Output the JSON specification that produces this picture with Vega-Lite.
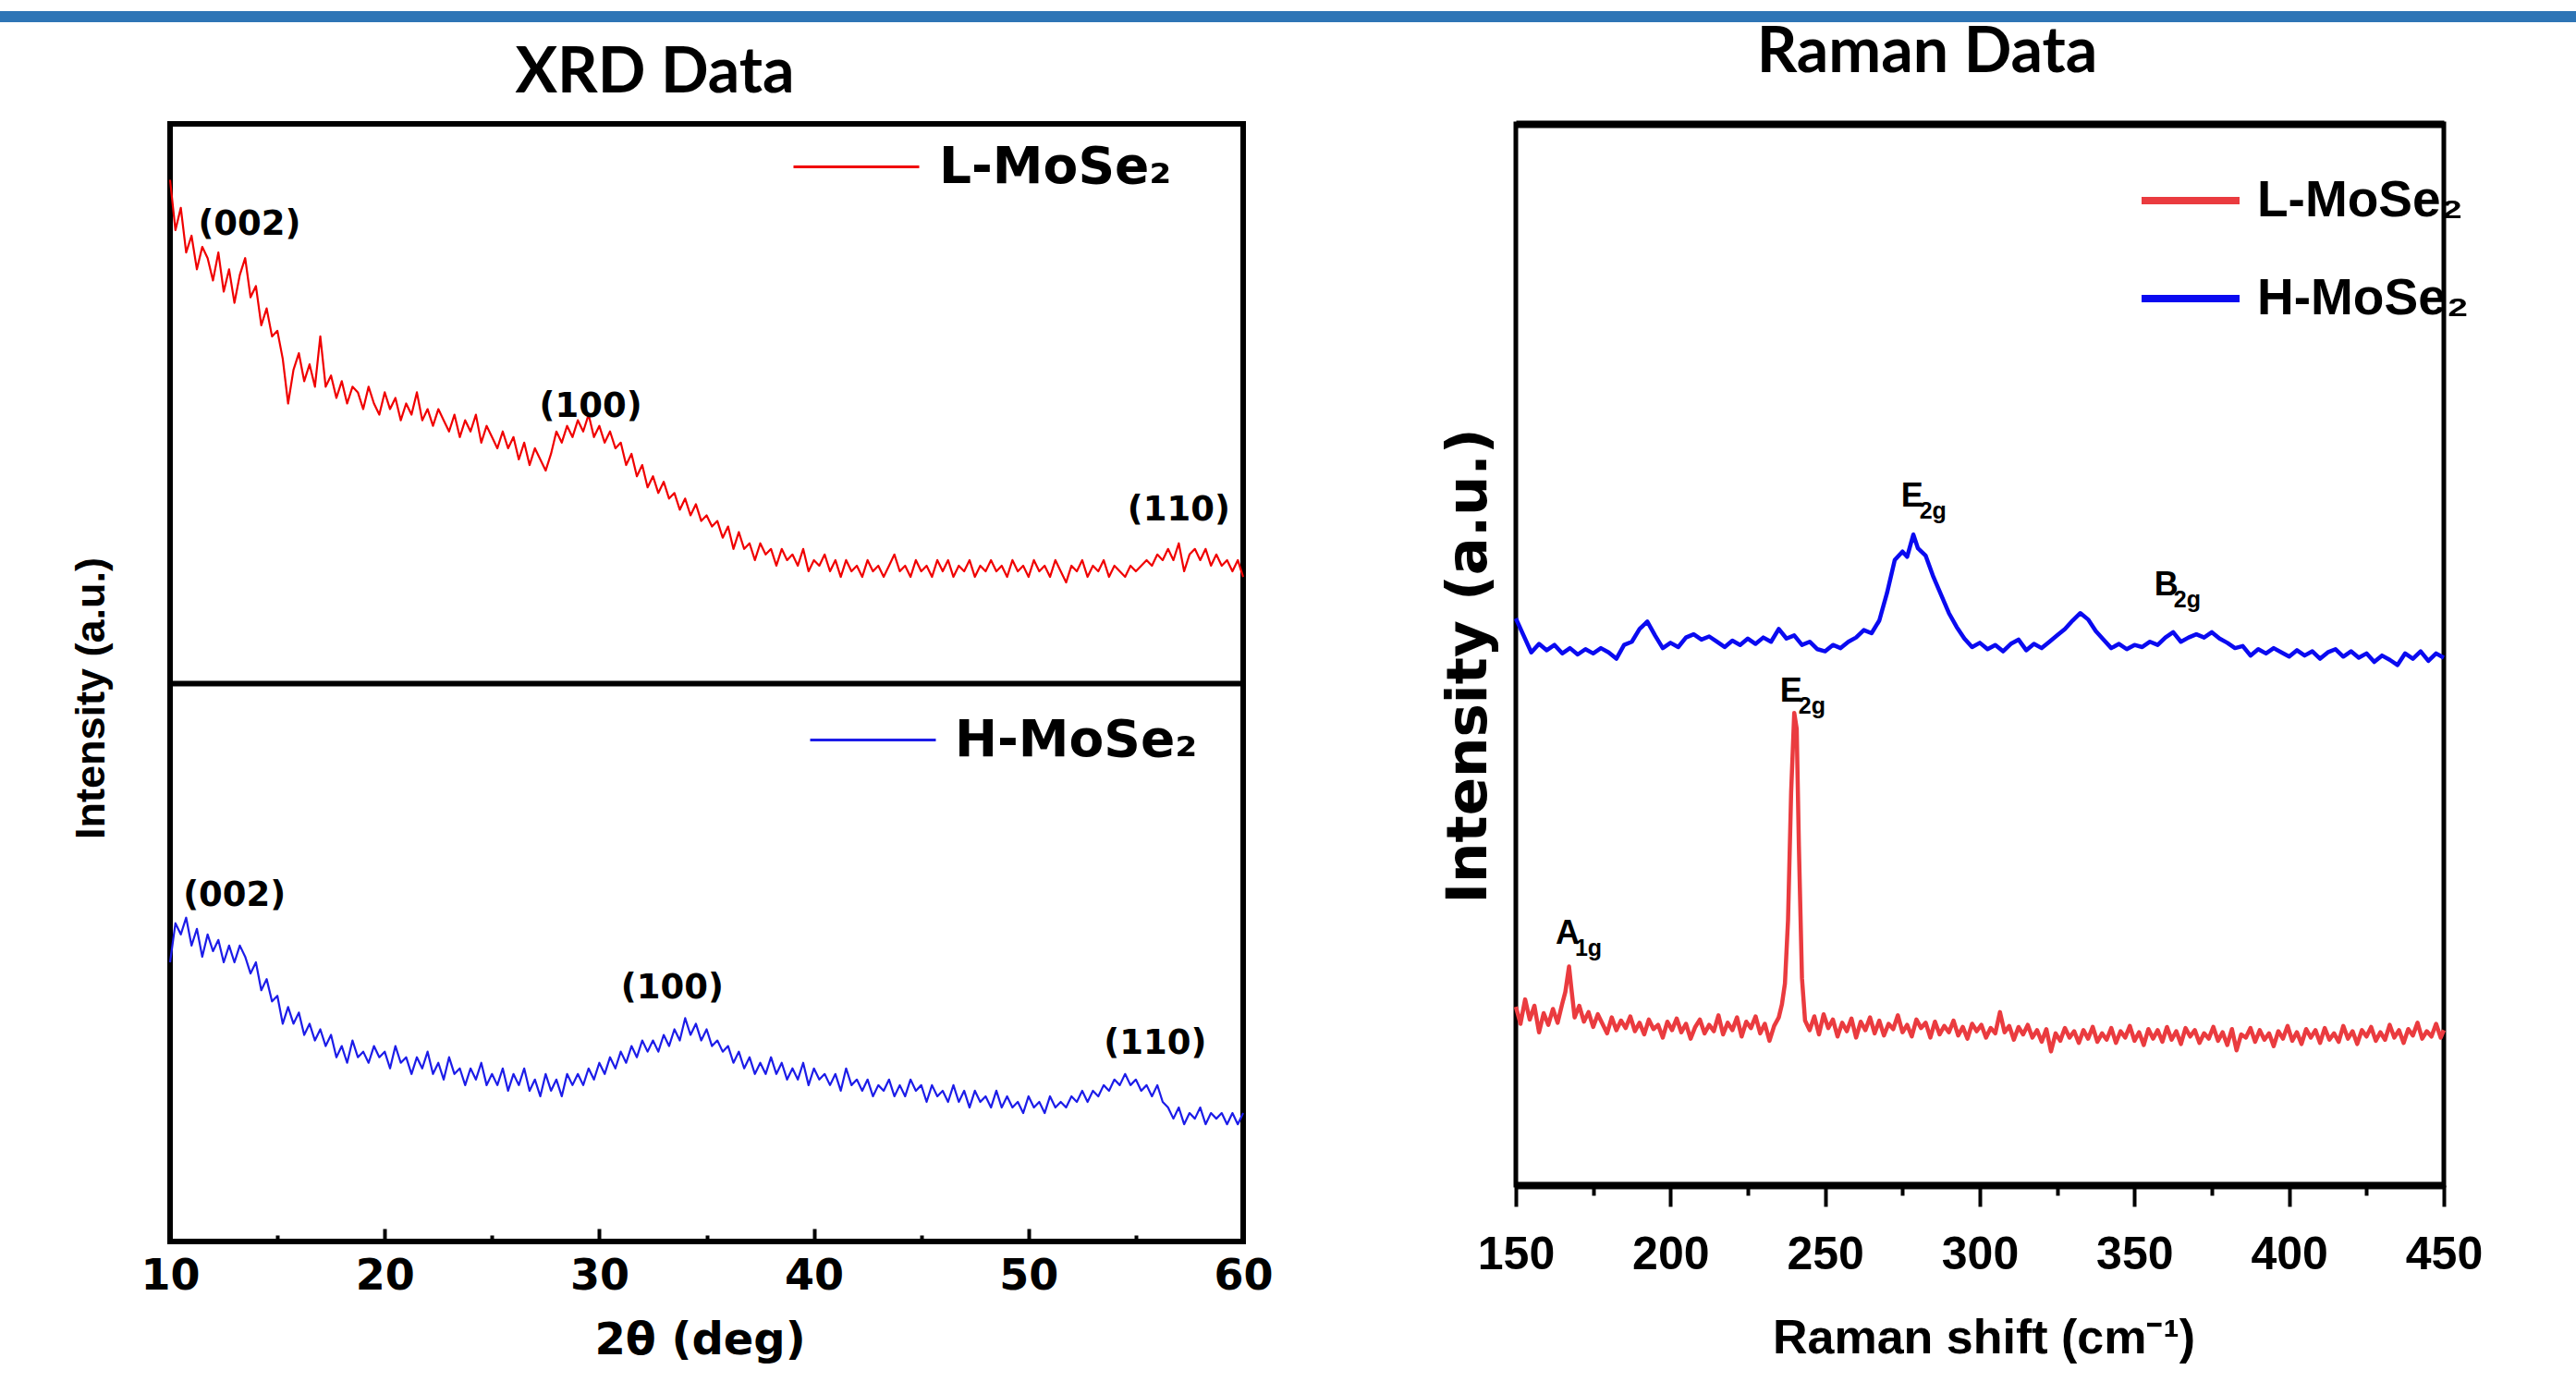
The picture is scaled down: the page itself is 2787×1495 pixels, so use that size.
{
  "$schema": "https://vega.github.io/schema/vega-lite/v6.json",
  "background": "white",
  "padding": {"left": 0, "top": 12, "right": 0, "bottom": 0},
  "autosize": {"type": "pad"},
  "config": {"view": {"stroke": null}, "axis": {"grid": false}, "legend": {"padding": 0}},
  "datasets": {
    "xrdL": [{"x":10,"y":90},{"x":10.25,"y":81},{"x":10.5,"y":85},{"x":10.75,"y":77},{"x":11,"y":80},{"x":11.25,"y":74},{"x":11.5,"y":78},{"x":11.75,"y":76},{"x":12,"y":72},{"x":12.25,"y":77},{"x":12.5,"y":70},{"x":12.75,"y":74},{"x":13,"y":68},{"x":13.25,"y":73},{"x":13.5,"y":76},{"x":13.75,"y":69},{"x":14,"y":71},{"x":14.25,"y":64},{"x":14.5,"y":67},{"x":14.75,"y":62},{"x":15,"y":63},{"x":15.25,"y":58},{"x":15.5,"y":50},{"x":15.75,"y":56},{"x":16,"y":59},{"x":16.25,"y":54},{"x":16.5,"y":57},{"x":16.75,"y":53},{"x":17,"y":62},{"x":17.25,"y":53},{"x":17.5,"y":55},{"x":17.75,"y":51},{"x":18,"y":54},{"x":18.25,"y":50},{"x":18.5,"y":53},{"x":18.75,"y":52},{"x":19,"y":49},{"x":19.25,"y":53},{"x":19.5,"y":50},{"x":19.75,"y":48},{"x":20,"y":52},{"x":20.25,"y":49},{"x":20.5,"y":51},{"x":20.75,"y":47},{"x":21,"y":50},{"x":21.25,"y":48},{"x":21.5,"y":52},{"x":21.75,"y":47},{"x":22,"y":49},{"x":22.25,"y":46},{"x":22.5,"y":49},{"x":22.75,"y":47},{"x":23,"y":45},{"x":23.25,"y":48},{"x":23.5,"y":44},{"x":23.75,"y":47},{"x":24,"y":45},{"x":24.25,"y":48},{"x":24.5,"y":43},{"x":24.75,"y":46},{"x":25,"y":44},{"x":25.25,"y":42},{"x":25.5,"y":45},{"x":25.75,"y":42},{"x":26,"y":44},{"x":26.25,"y":40},{"x":26.5,"y":43},{"x":26.75,"y":39},{"x":27,"y":42},{"x":27.25,"y":40},{"x":27.5,"y":38},{"x":27.75,"y":41},{"x":28,"y":45},{"x":28.25,"y":43},{"x":28.5,"y":46},{"x":28.75,"y":44},{"x":29,"y":47},{"x":29.25,"y":45},{"x":29.5,"y":48},{"x":29.75,"y":44},{"x":30,"y":46},{"x":30.25,"y":43},{"x":30.5,"y":45},{"x":30.75,"y":42},{"x":31,"y":43},{"x":31.25,"y":39},{"x":31.5,"y":41},{"x":31.75,"y":37},{"x":32,"y":39},{"x":32.25,"y":35},{"x":32.5,"y":37},{"x":32.75,"y":34},{"x":33,"y":36},{"x":33.25,"y":33},{"x":33.5,"y":34},{"x":33.75,"y":31},{"x":34,"y":33},{"x":34.25,"y":30},{"x":34.5,"y":32},{"x":34.75,"y":29},{"x":35,"y":30},{"x":35.25,"y":28},{"x":35.5,"y":29},{"x":35.75,"y":26},{"x":36,"y":28},{"x":36.25,"y":24},{"x":36.5,"y":27},{"x":36.75,"y":24},{"x":37,"y":25},{"x":37.25,"y":22},{"x":37.5,"y":25},{"x":37.75,"y":23},{"x":38,"y":24},{"x":38.25,"y":21},{"x":38.5,"y":24},{"x":38.75,"y":22},{"x":39,"y":23},{"x":39.25,"y":21},{"x":39.5,"y":24},{"x":39.75,"y":20},{"x":40,"y":22},{"x":40.25,"y":21},{"x":40.5,"y":23},{"x":40.75,"y":20},{"x":41,"y":22},{"x":41.25,"y":19},{"x":41.5,"y":22},{"x":41.75,"y":20},{"x":42,"y":21},{"x":42.25,"y":19},{"x":42.5,"y":22},{"x":42.75,"y":20},{"x":43,"y":21},{"x":43.25,"y":19},{"x":43.5,"y":21},{"x":43.75,"y":23},{"x":44,"y":20},{"x":44.25,"y":21},{"x":44.5,"y":19},{"x":44.75,"y":22},{"x":45,"y":20},{"x":45.25,"y":21},{"x":45.5,"y":19},{"x":45.75,"y":22},{"x":46,"y":20},{"x":46.25,"y":22},{"x":46.5,"y":19},{"x":46.75,"y":21},{"x":47,"y":20},{"x":47.25,"y":22},{"x":47.5,"y":19},{"x":47.75,"y":21},{"x":48,"y":20},{"x":48.25,"y":22},{"x":48.5,"y":20},{"x":48.75,"y":21},{"x":49,"y":19},{"x":49.25,"y":22},{"x":49.5,"y":20},{"x":49.75,"y":21},{"x":50,"y":19},{"x":50.25,"y":22},{"x":50.5,"y":20},{"x":50.75,"y":21},{"x":51,"y":19},{"x":51.25,"y":22},{"x":51.5,"y":20},{"x":51.75,"y":18},{"x":52,"y":21},{"x":52.25,"y":20},{"x":52.5,"y":22},{"x":52.75,"y":19},{"x":53,"y":21},{"x":53.25,"y":20},{"x":53.5,"y":22},{"x":53.75,"y":19},{"x":54,"y":21},{"x":54.25,"y":20},{"x":54.5,"y":19},{"x":54.75,"y":21},{"x":55,"y":20},{"x":55.25,"y":21},{"x":55.5,"y":22},{"x":55.75,"y":21},{"x":56,"y":23},{"x":56.25,"y":22},{"x":56.5,"y":24},{"x":56.75,"y":22},{"x":57,"y":25},{"x":57.25,"y":20},{"x":57.5,"y":23},{"x":57.75,"y":24},{"x":58,"y":22},{"x":58.25,"y":24},{"x":58.5,"y":21},{"x":58.75,"y":23},{"x":59,"y":21},{"x":59.25,"y":22},{"x":59.5,"y":20},{"x":59.75,"y":22},{"x":60,"y":19}],
    "xrdH": [{"x":10,"y":50},{"x":10.25,"y":57},{"x":10.5,"y":55},{"x":10.75,"y":58},{"x":11,"y":53},{"x":11.25,"y":56},{"x":11.5,"y":51},{"x":11.75,"y":55},{"x":12,"y":52},{"x":12.25,"y":54},{"x":12.5,"y":50},{"x":12.75,"y":53},{"x":13,"y":50},{"x":13.25,"y":53},{"x":13.5,"y":51},{"x":13.75,"y":48},{"x":14,"y":50},{"x":14.25,"y":45},{"x":14.5,"y":47},{"x":14.75,"y":43},{"x":15,"y":44},{"x":15.25,"y":39},{"x":15.5,"y":42},{"x":15.75,"y":39},{"x":16,"y":41},{"x":16.25,"y":37},{"x":16.5,"y":39},{"x":16.75,"y":36},{"x":17,"y":38},{"x":17.25,"y":35},{"x":17.5,"y":37},{"x":17.75,"y":33},{"x":18,"y":35},{"x":18.25,"y":32},{"x":18.5,"y":36},{"x":18.75,"y":33},{"x":19,"y":34},{"x":19.25,"y":32},{"x":19.5,"y":35},{"x":19.75,"y":33},{"x":20,"y":34},{"x":20.25,"y":31},{"x":20.5,"y":35},{"x":20.75,"y":32},{"x":21,"y":33},{"x":21.25,"y":30},{"x":21.5,"y":33},{"x":21.75,"y":31},{"x":22,"y":34},{"x":22.25,"y":30},{"x":22.5,"y":32},{"x":22.75,"y":29},{"x":23,"y":33},{"x":23.25,"y":30},{"x":23.5,"y":31},{"x":23.75,"y":28},{"x":24,"y":31},{"x":24.25,"y":29},{"x":24.5,"y":32},{"x":24.75,"y":28},{"x":25,"y":30},{"x":25.25,"y":28},{"x":25.5,"y":31},{"x":25.75,"y":27},{"x":26,"y":30},{"x":26.25,"y":28},{"x":26.5,"y":31},{"x":26.75,"y":27},{"x":27,"y":29},{"x":27.25,"y":26},{"x":27.5,"y":30},{"x":27.75,"y":27},{"x":28,"y":29},{"x":28.25,"y":26},{"x":28.5,"y":30},{"x":28.75,"y":28},{"x":29,"y":30},{"x":29.25,"y":28},{"x":29.5,"y":31},{"x":29.75,"y":29},{"x":30,"y":32},{"x":30.25,"y":30},{"x":30.5,"y":33},{"x":30.75,"y":31},{"x":31,"y":34},{"x":31.25,"y":32},{"x":31.5,"y":35},{"x":31.75,"y":33},{"x":32,"y":36},{"x":32.25,"y":34},{"x":32.5,"y":36},{"x":32.75,"y":34},{"x":33,"y":37},{"x":33.25,"y":35},{"x":33.5,"y":38},{"x":33.75,"y":36},{"x":34,"y":40},{"x":34.25,"y":37},{"x":34.5,"y":39},{"x":34.75,"y":36},{"x":35,"y":38},{"x":35.25,"y":35},{"x":35.5,"y":36},{"x":35.75,"y":34},{"x":36,"y":35},{"x":36.25,"y":32},{"x":36.5,"y":34},{"x":36.75,"y":31},{"x":37,"y":33},{"x":37.25,"y":30},{"x":37.5,"y":32},{"x":37.75,"y":30},{"x":38,"y":33},{"x":38.25,"y":30},{"x":38.5,"y":32},{"x":38.75,"y":29},{"x":39,"y":31},{"x":39.25,"y":29},{"x":39.5,"y":32},{"x":39.75,"y":28},{"x":40,"y":31},{"x":40.25,"y":29},{"x":40.5,"y":30},{"x":40.75,"y":28},{"x":41,"y":30},{"x":41.25,"y":27},{"x":41.5,"y":31},{"x":41.75,"y":28},{"x":42,"y":29},{"x":42.25,"y":27},{"x":42.5,"y":29},{"x":42.75,"y":26},{"x":43,"y":28},{"x":43.25,"y":27},{"x":43.5,"y":29},{"x":43.75,"y":26},{"x":44,"y":28},{"x":44.25,"y":26},{"x":44.5,"y":29},{"x":44.75,"y":27},{"x":45,"y":28},{"x":45.25,"y":25},{"x":45.5,"y":28},{"x":45.75,"y":26},{"x":46,"y":27},{"x":46.25,"y":25},{"x":46.5,"y":28},{"x":46.75,"y":25},{"x":47,"y":27},{"x":47.25,"y":24},{"x":47.5,"y":27},{"x":47.75,"y":25},{"x":48,"y":26},{"x":48.25,"y":24},{"x":48.5,"y":27},{"x":48.75,"y":24},{"x":49,"y":26},{"x":49.25,"y":24},{"x":49.5,"y":25},{"x":49.75,"y":23},{"x":50,"y":26},{"x":50.25,"y":24},{"x":50.5,"y":25},{"x":50.75,"y":23},{"x":51,"y":26},{"x":51.25,"y":24},{"x":51.5,"y":25},{"x":51.75,"y":24},{"x":52,"y":26},{"x":52.25,"y":25},{"x":52.5,"y":27},{"x":52.75,"y":25},{"x":53,"y":27},{"x":53.25,"y":26},{"x":53.5,"y":28},{"x":53.75,"y":27},{"x":54,"y":29},{"x":54.25,"y":28},{"x":54.5,"y":30},{"x":54.75,"y":28},{"x":55,"y":29},{"x":55.25,"y":27},{"x":55.5,"y":28},{"x":55.75,"y":26},{"x":56,"y":28},{"x":56.25,"y":25},{"x":56.5,"y":24},{"x":56.75,"y":22},{"x":57,"y":24},{"x":57.25,"y":21},{"x":57.5,"y":23},{"x":57.75,"y":22},{"x":58,"y":24},{"x":58.25,"y":21},{"x":58.5,"y":23},{"x":58.75,"y":22},{"x":59,"y":23},{"x":59.25,"y":21},{"x":59.5,"y":23},{"x":59.75,"y":21},{"x":60,"y":23}],
    "ramH": [{"x":150,"y":53.4},{"x":152.5,"y":51.8},{"x":155,"y":50.2},{"x":157.5,"y":51},{"x":160,"y":50.4},{"x":162.5,"y":50.9},{"x":165,"y":50.1},{"x":167.5,"y":50.6},{"x":170,"y":50},{"x":172.5,"y":50.5},{"x":175,"y":50.1},{"x":177.5,"y":50.6},{"x":180,"y":50.2},{"x":182.5,"y":49.6},{"x":185,"y":50.9},{"x":187.5,"y":51.2},{"x":190,"y":52.4},{"x":192.5,"y":53.1},{"x":195,"y":51.8},{"x":197.5,"y":50.6},{"x":200,"y":51.1},{"x":202.5,"y":50.7},{"x":205,"y":51.6},{"x":207.5,"y":51.9},{"x":210,"y":51.4},{"x":212.5,"y":51.7},{"x":215,"y":51.2},{"x":217.5,"y":50.7},{"x":220,"y":51.3},{"x":222.5,"y":50.9},{"x":225,"y":51.5},{"x":227.5,"y":51},{"x":230,"y":51.6},{"x":232.5,"y":51.2},{"x":235,"y":52.4},{"x":237.5,"y":51.5},{"x":240,"y":51.8},{"x":242.5,"y":50.9},{"x":245,"y":51.2},{"x":247.5,"y":50.5},{"x":250,"y":50.3},{"x":252.5,"y":50.9},{"x":255,"y":50.6},{"x":257.5,"y":51.2},{"x":260,"y":51.6},{"x":262.5,"y":52.3},{"x":265,"y":52},{"x":267.5,"y":53.2},{"x":270,"y":55.8},{"x":272.5,"y":58.9},{"x":275,"y":59.7},{"x":276.5,"y":59.2},{"x":278.5,"y":61.3},{"x":280,"y":60},{"x":282.5,"y":59.3},{"x":285,"y":57.3},{"x":287.5,"y":55.6},{"x":290,"y":53.9},{"x":292.5,"y":52.6},{"x":295,"y":51.5},{"x":297.5,"y":50.7},{"x":300,"y":51.1},{"x":302.5,"y":50.5},{"x":305,"y":50.9},{"x":307.5,"y":50.3},{"x":310,"y":51},{"x":312.5,"y":51.4},{"x":315,"y":50.4},{"x":317.5,"y":51},{"x":320,"y":50.6},{"x":322.5,"y":51.2},{"x":325,"y":51.8},{"x":327.5,"y":52.4},{"x":330,"y":53.2},{"x":332.5,"y":53.9},{"x":335,"y":53.3},{"x":337.5,"y":52.2},{"x":340,"y":51.4},{"x":342.5,"y":50.6},{"x":345,"y":51},{"x":347.5,"y":50.5},{"x":350,"y":50.9},{"x":352.5,"y":50.7},{"x":355,"y":51.2},{"x":357.5,"y":50.9},{"x":360,"y":51.6},{"x":362.5,"y":52.1},{"x":365,"y":51.2},{"x":367.5,"y":51.6},{"x":370,"y":51.9},{"x":372.5,"y":51.6},{"x":375,"y":52.1},{"x":377.5,"y":51.5},{"x":380,"y":51.1},{"x":382.5,"y":50.6},{"x":385,"y":50.8},{"x":387.5,"y":49.9},{"x":390,"y":50.5},{"x":392.5,"y":50.1},{"x":395,"y":50.6},{"x":397.5,"y":50.2},{"x":400,"y":49.8},{"x":402.5,"y":50.4},{"x":405,"y":49.9},{"x":407.5,"y":50.3},{"x":410,"y":49.6},{"x":412.5,"y":50.2},{"x":415,"y":50.5},{"x":417.5,"y":49.8},{"x":420,"y":50.3},{"x":422.5,"y":49.7},{"x":425,"y":50.1},{"x":427.5,"y":49.3},{"x":430,"y":49.9},{"x":432.5,"y":49.5},{"x":435,"y":49},{"x":437.5,"y":50.1},{"x":440,"y":49.6},{"x":442.5,"y":50.3},{"x":445,"y":49.4},{"x":447.5,"y":50.1},{"x":450,"y":49.7}],
    "ramL": [{"x":150,"y":16.8},{"x":151.5,"y":15.2},{"x":153,"y":17.5},{"x":154.5,"y":15.6},{"x":156,"y":16.9},{"x":157.5,"y":14.4},{"x":159,"y":16.2},{"x":160.5,"y":15.1},{"x":162,"y":16.6},{"x":163.5,"y":15.3},{"x":165,"y":17.1},{"x":166,"y":18.2},{"x":167.2,"y":20.6},{"x":168,"y":18.4},{"x":169,"y":15.8},{"x":170.5,"y":16.9},{"x":172,"y":15.4},{"x":173.5,"y":16.3},{"x":175,"y":14.9},{"x":176.5,"y":16.1},{"x":178,"y":15.2},{"x":179.5,"y":14.3},{"x":181,"y":15.8},{"x":182.5,"y":14.6},{"x":184,"y":15.5},{"x":185.5,"y":14.8},{"x":187,"y":15.9},{"x":188.5,"y":14.5},{"x":190,"y":15.3},{"x":191.5,"y":14.2},{"x":193,"y":15.6},{"x":194.5,"y":14.7},{"x":196,"y":15.1},{"x":197.5,"y":13.9},{"x":199,"y":15.4},{"x":200.5,"y":14.6},{"x":202,"y":15.7},{"x":203.5,"y":14.4},{"x":205,"y":15.2},{"x":206.5,"y":13.8},{"x":208,"y":14.9},{"x":209.5,"y":15.6},{"x":211,"y":14.3},{"x":212.5,"y":15.1},{"x":214,"y":14.5},{"x":215.5,"y":16},{"x":217,"y":14.2},{"x":218.5,"y":15.3},{"x":220,"y":14.6},{"x":221.5,"y":15.8},{"x":223,"y":14},{"x":224.5,"y":15.4},{"x":226,"y":14.8},{"x":227.5,"y":15.9},{"x":229,"y":14.3},{"x":230.5,"y":15.2},{"x":232,"y":13.6},{"x":233.5,"y":15},{"x":235,"y":15.8},{"x":236,"y":17},{"x":237,"y":19},{"x":238,"y":25},{"x":239,"y":37},{"x":240,"y":44.5},{"x":240.8,"y":43},{"x":241.5,"y":32},{"x":242.5,"y":19.5},{"x":243.5,"y":15.5},{"x":245,"y":14.6},{"x":246.5,"y":15.9},{"x":248,"y":14.2},{"x":249.5,"y":16.1},{"x":251,"y":14.8},{"x":252.5,"y":15.6},{"x":254,"y":14},{"x":255.5,"y":15.3},{"x":257,"y":14.5},{"x":258.5,"y":15.7},{"x":260,"y":13.9},{"x":261.5,"y":15.4},{"x":263,"y":14.6},{"x":264.5,"y":15.8},{"x":266,"y":14.3},{"x":267.5,"y":15.5},{"x":269,"y":14.1},{"x":270.5,"y":15.2},{"x":272,"y":14.7},{"x":273.5,"y":16},{"x":275,"y":14.4},{"x":276.5,"y":15.1},{"x":278,"y":14},{"x":279.5,"y":15.6},{"x":281,"y":14.8},{"x":282.5,"y":15.3},{"x":284,"y":13.9},{"x":285.5,"y":15.4},{"x":287,"y":14.2},{"x":288.5,"y":15},{"x":290,"y":14.4},{"x":291.5,"y":15.5},{"x":293,"y":14.1},{"x":294.5,"y":14.9},{"x":296,"y":13.8},{"x":297.5,"y":15.2},{"x":299,"y":14.5},{"x":300.5,"y":15.1},{"x":302,"y":13.9},{"x":303.5,"y":14.8},{"x":305,"y":14.3},{"x":306.5,"y":16.3},{"x":308,"y":14.4},{"x":309.5,"y":15},{"x":311,"y":13.7},{"x":312.5,"y":14.9},{"x":314,"y":14.2},{"x":315.5,"y":15.1},{"x":317,"y":13.9},{"x":318.5,"y":14.6},{"x":320,"y":13.5},{"x":321.5,"y":14.7},{"x":323,"y":12.6},{"x":324.5,"y":14.3},{"x":326,"y":13.6},{"x":327.5,"y":14.8},{"x":329,"y":13.9},{"x":330.5,"y":14.5},{"x":332,"y":13.4},{"x":333.5,"y":14.6},{"x":335,"y":13.8},{"x":336.5,"y":14.9},{"x":338,"y":13.5},{"x":339.5,"y":14.3},{"x":341,"y":13.7},{"x":342.5,"y":14.8},{"x":344,"y":13.4},{"x":345.5,"y":14.5},{"x":347,"y":13.9},{"x":348.5,"y":15},{"x":350,"y":13.6},{"x":351.5,"y":14.4},{"x":353,"y":13.2},{"x":354.5,"y":14.7},{"x":356,"y":13.8},{"x":357.5,"y":14.6},{"x":359,"y":13.5},{"x":360.5,"y":14.9},{"x":362,"y":13.7},{"x":363.5,"y":14.5},{"x":365,"y":13.3},{"x":366.5,"y":14.8},{"x":368,"y":14},{"x":369.5,"y":14.6},{"x":371,"y":13.4},{"x":372.5,"y":14.3},{"x":374,"y":13.8},{"x":375.5,"y":14.9},{"x":377,"y":13.6},{"x":378.5,"y":14.4},{"x":380,"y":13.2},{"x":381.5,"y":14.7},{"x":383,"y":12.7},{"x":384.5,"y":14.2},{"x":386,"y":13.9},{"x":387.5,"y":14.8},{"x":389,"y":13.5},{"x":390.5,"y":14.6},{"x":392,"y":13.7},{"x":393.5,"y":14.3},{"x":395,"y":13.1},{"x":396.5,"y":14.5},{"x":398,"y":13.8},{"x":399.5,"y":15},{"x":401,"y":13.6},{"x":402.5,"y":14.4},{"x":404,"y":13.3},{"x":405.5,"y":14.7},{"x":407,"y":13.9},{"x":408.5,"y":14.6},{"x":410,"y":13.4},{"x":411.5,"y":14.8},{"x":413,"y":13.7},{"x":414.5,"y":14.3},{"x":416,"y":13.5},{"x":417.5,"y":15},{"x":419,"y":13.8},{"x":420.5,"y":14.5},{"x":422,"y":13.3},{"x":423.5,"y":14.6},{"x":425,"y":14},{"x":426.5,"y":14.9},{"x":428,"y":13.6},{"x":429.5,"y":14.4},{"x":431,"y":13.7},{"x":432.5,"y":15.1},{"x":434,"y":13.9},{"x":435.5,"y":14.6},{"x":437,"y":13.4},{"x":438.5,"y":14.7},{"x":440,"y":14.1},{"x":441.5,"y":15.3},{"x":443,"y":13.8},{"x":444.5,"y":14.5},{"x":446,"y":14},{"x":447.5,"y":15.2},{"x":449,"y":13.9},{"x":450,"y":14.6}],
    "xrdLann": [{"x":13.7,"y":82,"t":"(002)"},{"x":29.6,"y":49.5,"t":"(100)"},{"x":57,"y":30.9,"t":"(110)"}],
    "xrdHann": [{"x":13,"y":62,"t":"(002)"},{"x":33.4,"y":45.3,"t":"(100)"},{"x":55.9,"y":35.5,"t":"(110)"}],
    "ramAnn": [{"x":278.1,"y":64.9,"m":"E","s":"2g"},{"x":360.3,"y":56.5,"m":"B","s":"2g"},{"x":239,"y":46.5,"m":"E","s":"2g"},{"x":166.7,"y":23.7,"m":"A","s":"1g"}]
  },
  "vconcat": [
    {"width": 2787, "height": 12, "data": {"values": [{"a": 1}]}, "mark": {"type": "rect", "color": "#2e75b6"}, "encoding": {}},
    {
      "hconcat": [
        {"width": 184, "height": 10, "data": {"values": [{"a": 1}]}, "mark": {"type": "rect", "opacity": 0}, "encoding": {}},
        {
          "title": {"text": "XRD Data", "font": "Lato", "fontSize": 68, "fontWeight": "bold", "color": "black", "baseline": "alphabetic", "anchor": "middle", "frame": "group", "dx": -56, "offset": -57},
          "width": 1161, "height": 1209,
          "view": {"stroke": "black", "strokeWidth": 6},
          "layer": [
            {
              "encoding": {
                "x": {"field": "x", "type": "quantitative", "scale": {"domain": [10, 60], "nice": false, "zero": false},
                      "axis": {"orient": "top", "offset": -605, "labels": false, "ticks": false, "title": null, "domainColor": "black", "domainWidth": 6}},
                "y": {"field": "y", "type": "quantitative", "scale": {"domain": [0, 100], "nice": false, "range": [605, 0]},
                      "axis": {"title": "Intensity (a.u.)", "labels": false, "ticks": false, "domain": false, "titleFont": "Liberation Sans", "titleFontSize": 45, "titleFontWeight": "bold", "titleColor": "black", "titleX": -86, "titleY": 621, "titleAngle": 270, "titleAlign": "center", "titleBaseline": "middle"}}
              },
              "layer": [
                {"data": {"name": "xrdL"}, "mark": {"type": "line", "strokeWidth": 2.2, "strokeJoin": "round"},
                 "encoding": {"color": {"datum": "L-MoSe₂", "scale": {"domain": ["L-MoSe₂"], "range": ["#f00000"]}, "legend": {"orient": "none", "legendX": 673, "legendY": -23, "title": null, "symbolType": "stroke", "symbolSize": 18496, "symbolStrokeWidth": 3, "labelFont": "DejaVu Sans", "labelFontSize": 55, "labelFontWeight": "bold", "labelColor": "black", "labelOffset": 20, "padding": 0, "labelLimit": 0}}}},
                {"data": {"name": "xrdLann"}, "mark": {"type": "text", "font": "DejaVu Sans", "fontWeight": "bold", "fontSize": 37, "color": "black", "align": "center", "baseline": "middle"},
                 "encoding": {"text": {"field": "t"}}}
              ]
            },
            {
              "encoding": {
                "x": {"field": "x", "type": "quantitative", "scale": {"domain": [10, 60], "nice": false, "zero": false},
                      "axis": {"orient": "bottom", "values": [10,15,20,25,30,35,40,45,50,55,60], "labelExpr": "datum.value % 10 === 0 ? datum.label : ''", "domain": false, "tickColor": "black", "tickWidth": 4, "tickSize": {"condition": {"test": "datum.value % 10 === 0", "value": -14}, "value": -7}, "labelFont": "DejaVu Sans", "labelFontSize": 46, "labelFontWeight": "bold", "labelColor": "black", "labelBaseline": "alphabetic", "labelPadding": 65, "labelFlush": false, "labelOverlap": false, "title": "2θ (deg)", "titleFont": "DejaVu Sans", "titleFontSize": 48, "titleFontWeight": "bold", "titleColor": "black", "titleBaseline": "alphabetic", "titleAlign": "center", "titleX": 573, "titleY": 121}},
                "y": {"field": "y", "type": "quantitative", "scale": {"domain": [0, 100], "nice": false, "range": [1209, 605]}, "axis": null}
              },
              "layer": [
                {"data": {"name": "xrdH"}, "mark": {"type": "line", "strokeWidth": 2.2, "strokeJoin": "round"},
                 "encoding": {"color": {"datum": "H-MoSe₂", "scale": {"domain": ["H-MoSe₂"], "range": ["#1c1ce8"]}, "legend": {"orient": "none", "legendX": 691, "legendY": 597, "title": null, "symbolType": "stroke", "symbolSize": 18496, "symbolStrokeWidth": 3, "labelFont": "DejaVu Sans", "labelFontSize": 55, "labelFontWeight": "bold", "labelColor": "black", "labelOffset": 19, "padding": 0, "labelLimit": 0}}}},
                {"data": {"name": "xrdHann"}, "mark": {"type": "text", "font": "DejaVu Sans", "fontWeight": "bold", "fontSize": 37, "color": "black", "align": "center", "baseline": "middle"},
                 "encoding": {"text": {"field": "t"}}}
              ]
            }
          ],
          "resolve": {"scale": {"y": "independent", "color": "independent"}, "axis": {"x": "independent", "y": "independent"}, "legend": {"color": "independent"}}
        },
        {"width": 295, "height": 10, "data": {"values": [{"a": 1}]}, "mark": {"type": "rect", "opacity": 0}, "encoding": {}},
        {
          "title": {"text": "Raman Data", "font": "Lato", "fontSize": 68, "fontWeight": "bold", "color": "black", "baseline": "alphabetic", "anchor": "middle", "frame": "group", "dx": -57, "offset": -12},
          "width": 1004, "height": 1148,
          "view": {"stroke": "black", "strokeWidth": 5},
          "encoding": {
            "y": {"field": "y", "type": "quantitative", "scale": {"domain": [0, 100], "nice": false}, "axis": {"title": "Intensity (a.u.)", "labels": false, "ticks": false, "domain": false, "titleFont": "DejaVu Sans", "titleFontSize": 61, "titleFontWeight": "bold", "titleColor": "black", "titleX": -51, "titleY": 586, "titleAngle": 270, "titleAlign": "center", "titleBaseline": "middle"}}
          },
          "layer": [
            {"data": {"name": "ramL"}, "mark": {"type": "line", "strokeWidth": 4.5, "strokeJoin": "round"},
             "encoding": {
               "x": {"field": "x", "type": "quantitative", "scale": {"domain": [150, 450], "nice": false, "zero": false},
                     "axis": {"orient": "bottom", "values": [150,175,200,225,250,275,300,325,350,375,400,425,450], "labelExpr": "datum.value % 50 === 0 ? datum.label : ''", "domainColor": "black", "domainWidth": 8, "tickColor": "black", "tickWidth": 4, "tickSize": {"condition": {"test": "datum.value % 50 === 0", "value": 23}, "value": 11}, "labelFont": "Liberation Sans", "labelFontSize": 50, "labelFontWeight": "bold", "labelColor": "black", "labelBaseline": "alphabetic", "labelPadding": 67, "labelFlush": false, "labelOverlap": false, "title": "Raman shift (cm⁻¹)", "titleFont": "Liberation Sans", "titleFontSize": 52, "titleFontWeight": "bold", "titleColor": "black", "titleBaseline": "alphabetic", "titleAlign": "center", "titleX": 506, "titleY": 181}},
               "color": {"datum": "L-MoSe₂", "scale": {"domain": ["L-MoSe₂", "H-MoSe₂"], "range": ["#ea3b3f", "#0a0af0"]}, "legend": {"orient": "none", "legendX": 673, "legendY": 26, "title": null, "symbolType": "stroke", "symbolSize": 11236, "symbolStrokeWidth": 8, "labelFont": "Liberation Sans", "labelFontSize": 55, "labelFontWeight": "bold", "labelColor": "black", "labelOffset": 15, "rowPadding": 21, "padding": 0, "labelLimit": 0}}
             }},
            {"data": {"name": "ramH"}, "mark": {"type": "line", "strokeWidth": 4.5, "strokeJoin": "round"},
             "encoding": {
               "x": {"field": "x", "type": "quantitative", "axis": {"orient": "top", "labels": false, "ticks": false, "title": null, "domainColor": "black", "domainWidth": 8}},
               "color": {"datum": "H-MoSe₂", "scale": {"domain": ["L-MoSe₂", "H-MoSe₂"], "range": ["#ea3b3f", "#0a0af0"]}, "legend": {"orient": "none", "legendX": 673, "legendY": 26, "title": null, "symbolType": "stroke", "symbolSize": 11236, "symbolStrokeWidth": 8, "labelFont": "Liberation Sans", "labelFontSize": 55, "labelFontWeight": "bold", "labelColor": "black", "labelOffset": 15, "rowPadding": 21, "padding": 0, "labelLimit": 0}}
             }},
            {"data": {"name": "ramAnn"}, "mark": {"type": "text", "font": "Liberation Sans", "fontWeight": "bold", "fontSize": 36, "color": "black", "align": "center", "baseline": "middle"},
             "encoding": {"x": {"field": "x", "type": "quantitative", "axis": null}, "text": {"field": "m"}}},
            {"data": {"name": "ramAnn"}, "mark": {"type": "text", "font": "Liberation Sans", "fontWeight": "bold", "fontSize": 25, "color": "black", "align": "left", "baseline": "middle", "dx": 8, "dy": 16},
             "encoding": {"x": {"field": "x", "type": "quantitative", "axis": null}, "text": {"field": "s"}}}
          ],
          "resolve": {"axis": {"x": "independent"}}
        }
      ],
      "spacing": 0,
      "bounds": "flush",
      "resolve": {"scale": {"color": "independent"}, "legend": {"color": "independent"}}
    }
  ],
  "spacing": 110,
  "bounds": "flush"
}
